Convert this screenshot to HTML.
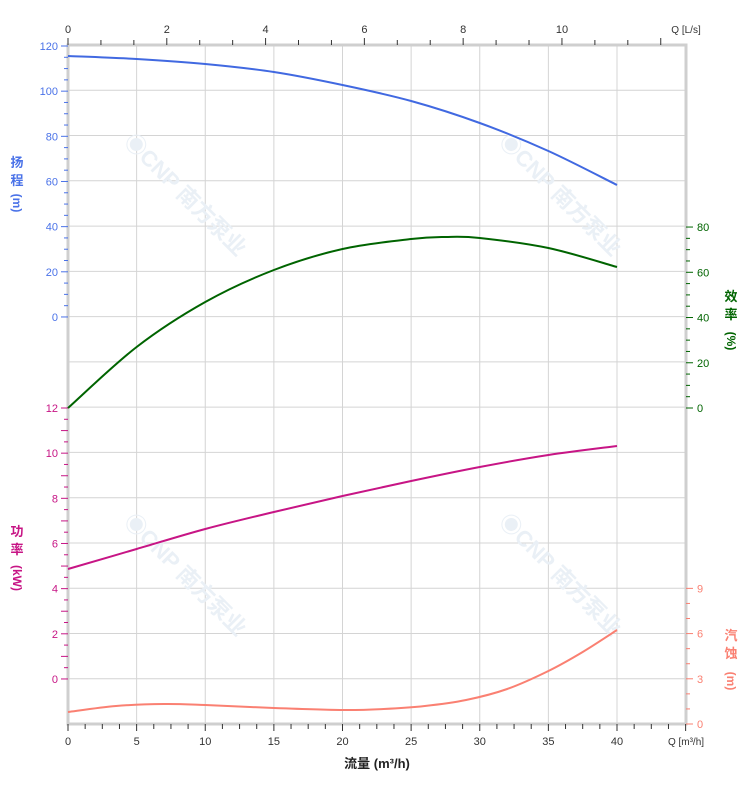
<!DOCTYPE html>
<html><head><meta charset="utf-8"><style>
html,body{margin:0;padding:0;background:#fff;}
svg{display:block;font-family:"Liberation Sans","Noto Sans CJK SC",sans-serif;}
</style></head><body>
<svg id="s" width="752" height="797" viewBox="0 0 752 797" xmlns="http://www.w3.org/2000/svg"></svg>
<script>
const s=document.getElementById('s');let h='';
const X=q=>68+q*13.725;
for(let i=0;i<=15;i++){const y=45+i*45.27;h+=`<line x1="68" x2="686" y1="${y}" y2="${y}" stroke="#d4d4d4" stroke-width="1"/>`;}
for(let q=0;q<=45;q+=5){h+=`<line x1="${X(q)}" x2="${X(q)}" y1="45" y2="724" stroke="#d4d4d4" stroke-width="1"/>`;}
[[180,200],[555,200],[180,580],[555,580]].forEach(([x,y])=>{h+=`<text x="${x}" y="${y}" transform="rotate(45 ${x} ${y})" font-size="22" font-weight="bold" fill="#eaf0f6" text-anchor="middle">◉CNP 南方泵业</text>`;});
h+=`<rect x="68" y="45" width="618" height="679" fill="none" stroke="#cfcfcf" stroke-width="3"/>`;
for(let i=0;i<=36;i++){const x=X(i*1.25);const mj=i%4==0;h+=`<line x1="${x}" x2="${x}" y1="724" y2="${mj?731:729}" stroke="#333" stroke-width="1"/>`;}
for(let q=0;q<=40;q+=5)h+=`<text x="${X(q)}" y="745" font-size="11" text-anchor="middle" fill="#333">${q}</text>`;
h+=`<text x="686" y="745" font-size="10" text-anchor="middle" fill="#333">Q [m³/h]</text>`;
for(let i=0;i<=37;i++){const x=68+i*32.93;if(x>686)break;const mj=i%3==0;h+=`<line x1="${x}" x2="${x}" y1="45" y2="${mj?38:40}" stroke="#333" stroke-width="1"/>`;}
for(let l=0;l<=10;l+=2)h+=`<text x="${68+l*49.4}" y="33" font-size="11" text-anchor="middle" fill="#333">${l}</text>`;
h+=`<text x="686" y="33" font-size="10" text-anchor="middle" fill="#333">Q [L/s]</text>`;
const hb='#4a72e8';
for(let i=0;i<=24;i++){const y=46+i*11.29;if(y>318)break;h+=`<line x1="${i%4==0?61:64}" x2="68" y1="${y}" y2="${y}" stroke="${hb}"/>`;}
for(let v=120;v>=0;v-=20)h+=`<text x="58" y="${317-v*2.2583+4}" font-size="11" text-anchor="end" fill="${hb}">${v}</text>`;
const pc='#c71585';
for(let i=0;i<=24;i++){const y=408+i*11.29;if(y>680)break;h+=`<line x1="${i%2==0?61:64}" x2="68" y1="${y}" y2="${y}" stroke="${pc}"/>`;}
for(let v=12;v>=0;v-=2)h+=`<text x="58" y="${679-v*22.58+4}" font-size="11" text-anchor="end" fill="${pc}">${v}</text>`;
const ec='#006400';
for(let i=0;i<=16;i++){const y=408-i*11.31;if(y<226)break;h+=`<line x1="686" x2="${i%4==0?693:690}" y1="${y}" y2="${y}" stroke="${ec}"/>`;}
for(let v=0;v<=80;v+=20)h+=`<text x="697" y="${408-v*2.2625+4}" font-size="11" fill="${ec}">${v}</text>`;
const nc='#fa8072';
for(let i=0;i<=9;i++){const y=724-i*15.07;h+=`<line x1="686" x2="${i%3==0?693:690}" y1="${y}" y2="${y}" stroke="${nc}"/>`;}
for(let v=0;v<=9;v+=3)h+=`<text x="697" y="${724-v*15.07+4}" font-size="11" fill="${nc}">${v}</text>`;
function vt(x,y,t,c){let o='';for(let i=0;i<t.length;i++)o+=`<text x="${x}" y="${y+i*18}" font-size="13" font-weight="bold" fill="${c}" text-anchor="middle">${t[i]}</text>`;return o;}
h+=vt(17,167,'扬程',hb)+`<text x="17" y="203" transform="rotate(90 17 203)" font-size="12" font-weight="bold" fill="${hb}" text-anchor="middle" dy="4">(m)</text>`;
h+=vt(731,301,'效率',ec)+`<text x="731" y="341" transform="rotate(90 731 341)" font-size="12" font-weight="bold" fill="${ec}" text-anchor="middle" dy="4">(%)</text>`;
h+=vt(17,536,'功率',pc)+`<text x="17" y="578" transform="rotate(90 17 578)" font-size="12" font-weight="bold" fill="${pc}" text-anchor="middle" dy="4">(kW)</text>`;
h+=vt(731,640,'汽蚀',nc)+`<text x="731" y="681" transform="rotate(90 731 681)" font-size="12" font-weight="bold" fill="${nc}" text-anchor="middle" dy="4">(m)</text>`;
h+=`<text x="377" y="768" font-size="13" font-weight="bold" text-anchor="middle" fill="#222">流量 (m³/h)</text>`;
function cr(pts,c){let d=`M${pts[0][0]},${pts[0][1]}`;for(let i=0;i<pts.length-1;i++){const p0=pts[i-1]||pts[i],p1=pts[i],p2=pts[i+1],p3=pts[i+2]||p2;d+=` C${p1[0]+(p2[0]-p0[0])/6},${p1[1]+(p2[1]-p0[1])/6} ${p2[0]-(p3[0]-p1[0])/6},${p2[1]-(p3[1]-p1[1])/6} ${p2[0]},${p2[1]}`;}return `<path d="${d}" fill="none" stroke="${c}" stroke-width="2"/>`;}
const P=a=>a.map(([q,y])=>[X(q),y]);
h+=cr(P([[0,56],[5,59],[10,64],[15,72],[20,85],[25,101],[30,123],[35,151],[40,185]]),'#4169e1');
h+=cr(P([[0,408],[5,347],[10,302],[15,270],[20,249],[25,239],[27.5,237],[30,238],[35,248],[40,267]]),'#006400');
h+=cr(P([[0,569],[5,549],[10,529],[15,512],[20,496],[25,481],[30,467],[35,455],[40,446]]),'#c71585');
h+=cr(P([[0,712],[3.5,706],[7,704],[10,705],[15,708],[20,710],[23,709],[26,706],[29,700],[32,689],[35,671],[37.5,652],[40,630]]),'#fa8072');
s.innerHTML=h;
</script>
</body></html>
